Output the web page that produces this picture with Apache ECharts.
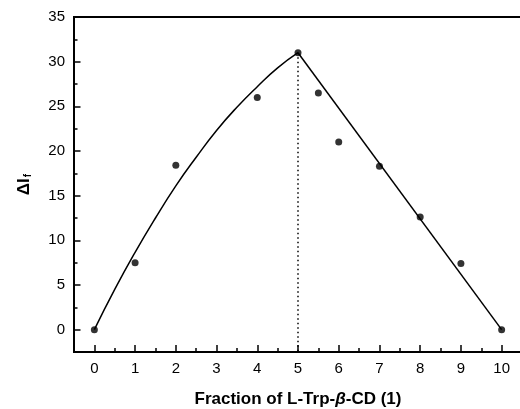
<!DOCTYPE html>
<html>
<head>
<meta charset="utf-8">
<script src="https://cdn.jsdelivr.net/npm/echarts@6/dist/echarts.min.js"></script>
<style>html,body{margin:0;padding:0;background:#fff}#c{width:520px;height:409px}</style>
</head>
<body>
<div id="c"></div>
<script>
// Measured points
var pointX = [0, 1, 2, 4, 5, 5.5, 6, 7, 8, 9, 10];
var pointY = [0, 7.5, 18.4, 26.0, 31.0, 26.5, 21.0, 18.3, 12.6, 7.4, 0];
// Fitted curve (left branch)
var curveX = [0, 0.5, 1, 1.5, 2, 2.5, 3, 3.5, 4, 4.5, 5];
var curveY = [0, 4.5, 8.65, 12.5, 16.1, 19.3, 22.3, 24.9, 27.2, 29.3, 31.0];
// Straight line (right branch)
var lineX = [5, 10];
var lineY = [31.0, 0];
// Dotted vertical marker
var dotX = [5, 5];
var dotY = [31.0, -2.5];
// Tick labels
var xTicks = [0, 1, 2, 3, 4, 5, 6, 7, 8, 9, 10];
var yTicks = [0, 5, 10, 15, 20, 25, 30, 35];

function zip(a, b) { return a.map(function (v, i) { return [v, b[i]]; }); }

var font = 'Liberation Sans, Arial, sans-serif';
var chart = echarts.init(document.getElementById('c'));
chart.setOption({
  animation: false,
  backgroundColor: '#fff',
  grid: { left: 74, right: -2, top: 17, bottom: 57, containLabel: false, outerBoundsMode: 'none', show: true, borderColor: '#000', borderWidth: 2, backgroundColor: 'transparent' },
  xAxis: [{
    type: 'value', min: -0.5, max: 10.5, interval: 0.5, position: 'bottom',
    name: '{b|Fraction of L-Trp-}{i|β}{b|-CD (1)}',
    nameLocation: 'middle', nameGap: 39,
    nameTextStyle: { rich: {
      b: { fontFamily: font, fontWeight: 'bold', fontSize: 17, color: '#000' },
      i: { fontFamily: font, fontWeight: 'bold', fontStyle: 'italic', fontSize: 17, color: '#000' }
    } },
    axisLine: { show: true, onZero: false, lineStyle: { color: '#000', width: 2 } },
    axisTick: { show: true, inside: true, length: 4, lineStyle: { color: '#000', width: 1.5 } },
    axisLabel: { customValues: xTicks, fontFamily: font, fontSize: 15, color: '#000', margin: 9 },
    splitLine: { show: false }
  }, {
    type: 'value', min: -0.5, max: 10.5, position: 'bottom',
    axisLine: { show: false, onZero: false },
    axisTick: { show: true, inside: true, length: 7, customValues: xTicks, lineStyle: { color: '#000', width: 1.5 } },
    axisLabel: { show: false },
    splitLine: { show: false }
  }],
  yAxis: [{
    type: 'value', min: -2.5, max: 35, interval: 2.5, position: 'left',
    name: '{b|ΔI}{s|f}',
    nameLocation: 'middle', nameGap: 41, nameRotate: 90,
    nameTextStyle: { rich: {
      b: { fontFamily: font, fontWeight: 'bold', fontSize: 17, color: '#000' },
      s: { fontFamily: font, fontWeight: 'bold', fontSize: 10, color: '#000', padding: [8, 0, 0, 1] }
    } },
    axisLine: { show: true, onZero: false, lineStyle: { color: '#000', width: 2 } },
    axisTick: { show: true, inside: true, length: 3.5, lineStyle: { color: '#000', width: 1.5 } },
    axisLabel: { customValues: yTicks, fontFamily: font, fontSize: 15, color: '#000', margin: 9 },
    splitLine: { show: false }
  }, {
    type: 'value', min: -2.5, max: 35, position: 'left',
    axisLine: { show: false, onZero: false },
    axisTick: { show: true, inside: true, length: 6.5, customValues: yTicks, lineStyle: { color: '#000', width: 1.5 } },
    axisLabel: { show: false },
    splitLine: { show: false }
  }],
  series: [{
    type: 'line', data: zip(curveX, curveY), smooth: true, showSymbol: false,
    lineStyle: { color: '#000', width: 1.5 }
  }, {
    type: 'line', data: zip(lineX, lineY), showSymbol: false,
    lineStyle: { color: '#000', width: 1.5 }
  }, {
    type: 'line', data: zip(dotX, dotY), showSymbol: false,
    lineStyle: { color: '#000', width: 1.5, type: [1.5, 3] }
  }, {
    type: 'scatter', data: zip(pointX, pointY), symbol: 'circle', symbolSize: 7,
    itemStyle: { color: '#000' }
  }]
});
</script>
</body>
</html>
